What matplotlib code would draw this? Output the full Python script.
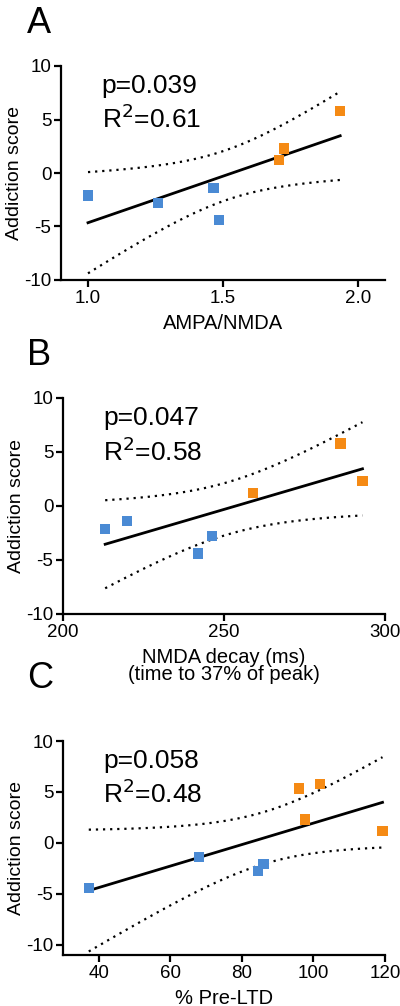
import numpy as np
import matplotlib
matplotlib.use("Agg")
import matplotlib.pyplot as plt

plt.rcParams['font.family'] = ['Liberation Sans', 'DejaVu Sans']

# addiction scores (same animals in all panels)
score_blue = [-2.1, -2.8, -1.4, -4.4]
score_orange = [1.2, 2.3, 5.8]

ampa_blue = [1.0, 1.26, 1.465, 1.485]
ampa_orange = [1.707, 1.727, 1.934]

decay_blue = [213.1, 246.2, 219.9, 241.9]
decay_orange = [259.0, 293.0, 286.2]

ltd_blue = [86.0, 84.6, 68.1, 37.2]
ltd_score_blue = [-2.1, -2.75, -1.35, -4.4]
ltd_orange = [119.3, 97.7, 101.8, 96.0]
ltd_score_orange = [1.2, 2.3, 5.8, 5.33]

stats_text = [("p=0.039", "R$^2$=0.61"), ("p=0.047", "R$^2$=0.58"), ("p=0.058", "R$^2$=0.48")]
xlabels = ["AMPA/NMDA", "NMDA decay (ms)\n(time to 37% of peak)", "% Pre-LTD"]
letters = ["A", "B", "C"]

# two-sided 95% t critical values by degrees of freedom
t_crit = {5: 2.571, 6: 2.447}

BLUE = "#4a8ad4"
ORANGE = "#f58a14"

W, H = 400, 1006
fig = plt.figure(figsize=(W / 100, H / 100), dpi=100)


def px_axes(left, top, right, bottom):
    return fig.add_axes([left / W, 1 - bottom / H, (right - left) / W, (bottom - top) / H])


def panel(ax, xb, yb, xo, yo, xlim, ylim, xticks, xtl, stats, xlabel):
    x = np.array(xb + xo)
    y = np.array(yb + yo)
    n = len(x)
    slope, icpt = np.polyfit(x, y, 1)
    resid = y - (slope * x + icpt)
    s = np.sqrt(np.sum(resid ** 2) / (n - 2))
    xs = np.linspace(x.min(), x.max(), 100)
    fit = slope * xs + icpt
    se = s * np.sqrt(1 / n + (xs - x.mean()) ** 2 / np.sum((x - x.mean()) ** 2))
    t = t_crit[n - 2]
    ax.plot(xs, fit, color="black", lw=2.0, zorder=2)
    ax.plot(xs, fit + t * se, color="black", lw=1.6, ls=(0, (1, 2.2)), zorder=2)
    ax.plot(xs, fit - t * se, color="black", lw=1.6, ls=(0, (1, 2.2)), zorder=2)
    ax.scatter(xb, yb, marker="s", s=55, color=BLUE, edgecolors="none", zorder=3, clip_on=False)
    ax.scatter(xo, yo, marker="s", s=55, color=ORANGE, edgecolors="none", zorder=3, clip_on=False)
    ax.set_xlim(*xlim)
    ax.set_ylim(*ylim)
    ax.set_xticks(xticks)
    ax.set_xticklabels(xtl)
    ax.set_yticks([-10, -5, 0, 5, 10])
    ax.set_yticklabels(["-10", "-5", "0", "5", "10"])
    for side in ["top", "right"]:
        ax.spines[side].set_visible(False)
    for side in ["left", "bottom"]:
        ax.spines[side].set_linewidth(1.6)
    ax.tick_params(direction="out", length=5, width=1.6, labelsize=13.5, pad=2)
    ax.set_xlabel(xlabel, fontsize=14.5, labelpad=5, linespacing=0.9)
    ax.set_ylabel("Addiction score", fontsize=14, labelpad=1)
    ax.text(0.125, 0.875, stats[0], transform=ax.transAxes, fontsize=19)
    ax.text(0.125, 0.71, stats[1], transform=ax.transAxes, fontsize=19)


axA = px_axes(61, 66, 385, 280)
panel(axA, ampa_blue, score_blue, ampa_orange, score_orange,
      (0.9, 2.1), (-10, 10), [1.0, 1.5, 2.0], ["1.0", "1.5", "2.0"], stats_text[0], xlabels[0])

axB = px_axes(63, 398, 385, 614)
panel(axB, decay_blue, score_blue, decay_orange, score_orange,
      (200, 300), (-10, 10), [200, 250, 300], ["200", "250", "300"], stats_text[1], xlabels[1])

axC = px_axes(63, 741, 385, 955)
panel(axC, ltd_blue, ltd_score_blue, ltd_orange, ltd_score_orange,
      (30, 120), (-11, 10), [40, 60, 80, 100, 120], ["40", "60", "80", "100", "120"], stats_text[2], xlabels[2])

fig.text(27 / W, 1 - 33 / H, letters[0], fontsize=26, va="baseline")
fig.text(27 / W, 1 - 365 / H, letters[1], fontsize=26, va="baseline")
fig.text(27 / W, 1 - 688 / H, letters[2], fontsize=26, va="baseline")

fig.savefig("out.png", dpi=100)
